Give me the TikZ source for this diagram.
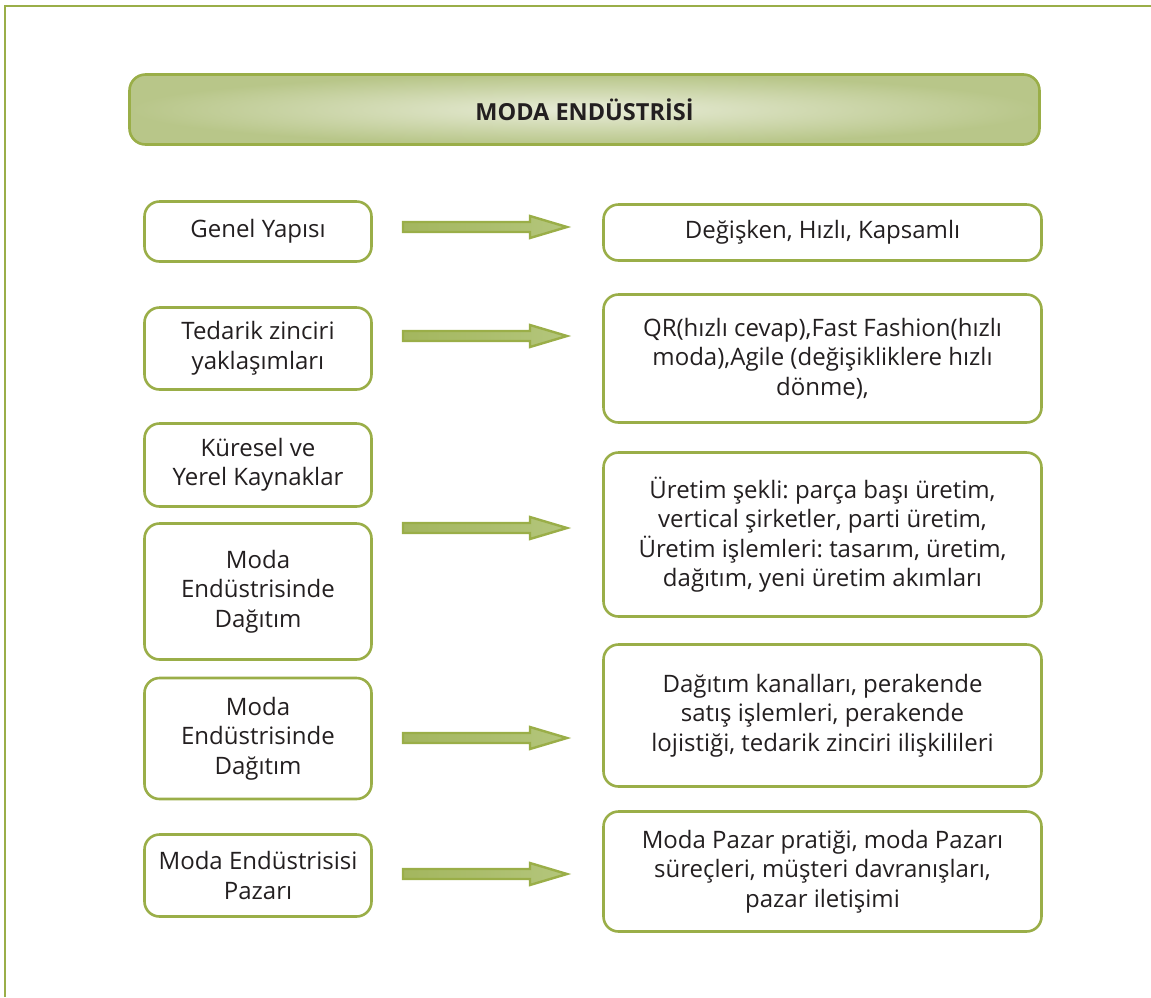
\documentclass[tikz,border=0pt]{standalone}
\usepackage{fontspec}
\setmainfont{Open Sans}
\usetikzlibrary{calc}
\frenchspacing

\definecolor{olive}{HTML}{9AAE48}
\definecolor{titleedge}{HTML}{B8C689}
\definecolor{titlemid}{HTML}{E8ECD8}
\definecolor{arrowdark}{HTML}{A3B65E}
\definecolor{arrowlight}{HTML}{F1F4E6}
\definecolor{arrowhead}{HTML}{B4C67C}
\definecolor{ink}{HTML}{231F20}

\tikzset{
  card/.style={draw=olive, line width=2.6pt, rounded corners=15pt, fill=white,
    align=center, text=ink, inner sep=0pt,
    font=\fontsize{24}{29.5}\selectfont},
  leftcard/.style={card, minimum width=227pt},
  rightcard/.style={card, minimum width=438pt},
  titlebar/.style={draw=olive, line width=2.6pt, rounded corners=16pt,
    inner color=titlemid, outer color=titleedge,
    minimum width=910pt, minimum height=70pt, text=ink,
    font=\fontsize{23.5}{28}\selectfont\bfseries},
  blockarrow/.style={draw=olive, line width=2.4pt, line join=miter,
    left color=arrowdark, middle color=arrowlight, right color=arrowhead},
  frameline/.style={draw=olive, line width=2pt}
}

\begin{document}
\begin{tikzpicture}[x=1pt, y=-1pt]
\useasboundingbox (0,0) rectangle (1151,997);

% page frame (open at right and bottom)
\draw[frameline] (5,997) -- (5,6) -- (1151,6);

% heading
\node[titlebar] (title) at (584.5,109.5) {MODA ENDÜSTRİSİ};

% left column
\node[leftcard, minimum height=60pt]  (g) at (258,231.5) {Genel Yapısı};
\node[leftcard, minimum height=82pt]  (t) at (258,348.5) {Tedarik zinciri\\yaklaşımları};
\node[leftcard, minimum height=83pt]  (k) at (258,465)   {Küresel ve\\Yerel Kaynaklar};
\node[leftcard, minimum height=136pt] (d1) at (258,591.5) {Moda\\Endüstrisinde\\Dağıtım};
\node[leftcard, minimum height=121pt] (d2) at (258,738.5) {Moda\\Endüstrisinde\\Dağıtım};
\node[leftcard, minimum height=82pt]  (p) at (258,875.5) {Moda Endüstrisisi\\Pazarı};

% right column
\node[rightcard, minimum height=56pt]  (r1) at (822.5,232.5) {Değişken, Hızlı, Kapsamlı};
\node[rightcard, minimum height=128pt] (r2) at (822.5,358.5) {QR(hızlı cevap),Fast Fashion(hızlı\\moda),Agile (değişikliklere hızlı\\dönme),};
\node[rightcard, minimum height=164pt] (r3) at (822.5,534.5) {Üretim şekli: parça başı üretim,\\vertical şirketler, parti üretim,\\Üretim işlemleri: tasarım, üretim,\\dağıtım, yeni üretim akımları};
\node[rightcard, minimum height=142pt] (r4) at (822.5,715.5) {Dağıtım kanalları, perakende\\satış işlemleri, perakende\\lojistiği, tedarik zinciri ilişkilileri};
\node[rightcard, minimum height=120pt] (r5) at (822.5,871.5) {Moda Pazar pratiği, moda Pazarı\\süreçleri, müşteri davranışları,\\pazar iletişimi};

% block arrows between the columns
\foreach \ay/\nm in {227/a1, 336/a2, 528/a3, 738/a4, 874/a5}{
  \coordinate (\nm) at (403,\ay);
  \path[blockarrow] (\nm) ++(0,-5) -- ++(127,0) -- ++(0,-6) -- ++(37,11)
        -- ++(-37,11) -- ++(0,-6) -- ++(-127,0) -- cycle;
}
\end{tikzpicture}
\end{document}
